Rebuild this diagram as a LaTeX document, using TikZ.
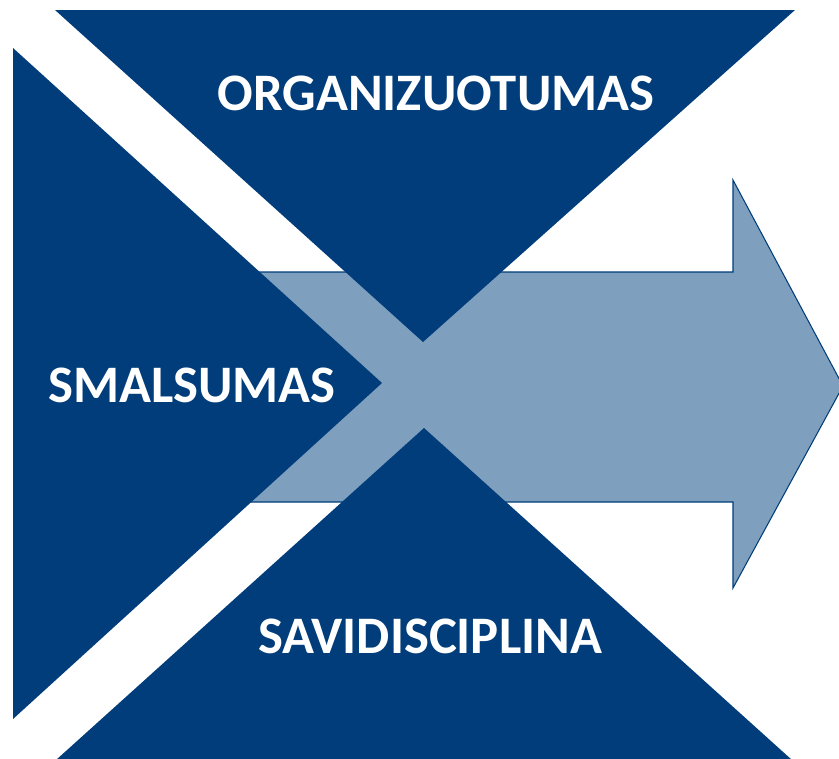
\documentclass[tikz,border=0pt]{standalone}
\usepackage{fontspec}
\setmainfont{Carlito}
\definecolor{darkblue}{RGB}{0,61,122}
\definecolor{lightblue}{RGB}{127,159,190}
\tikzset{tri/.style={fill=darkblue},
  lbl/.style={text=white,font=\fontsize{30}{36}\selectfont\bfseries,anchor=base,inner sep=0pt}}

\begin{document}
\begin{tikzpicture}[x=0.02cm,y=-0.02cm]
\useasboundingbox (0,0) rectangle (839,758);
\fill[white] (0,0) rectangle (839,758);
\draw[fill=lightblue,draw=darkblue,line width=0.6pt] (250,272) -- (733,272) -- (733,180) -- (843,386) -- (733,588) -- (733,502) -- (250,502) -- cycle;
\fill[tri] (55,10) -- (795,10) -- (423,342) -- cycle;
\fill[tri] (13,48) -- (382,383) -- (13,719) -- cycle;
\fill[tri] (424,428) -- (792,760) -- (56,760) -- cycle;
\node[lbl] (org) at (436,110) {ORGANIZUOTUMAS};
\node[lbl] (sma) at (192,402) {SMALSUMAS};
\node[lbl] (sav) at (430,653) {SAVIDISCIPLINA};
\end{tikzpicture}
\end{document}
